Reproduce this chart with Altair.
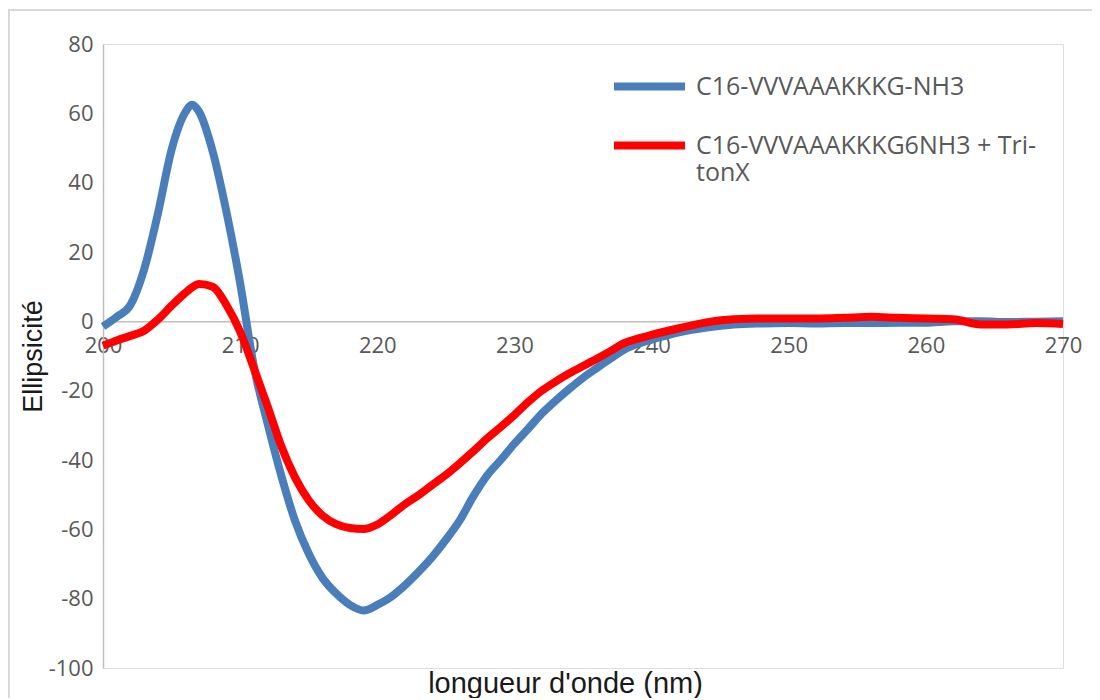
import altair as alt
import pandas as pd

# Wavelength grid (nm)
wavelength = [200, 201, 202, 203, 204, 205, 206, 206.5, 207, 208, 209, 210,
              211, 212, 213, 214, 215, 216, 217, 218, 219, 220, 221, 222, 223,
              224, 225, 226, 227, 228, 229, 230, 231, 232, 233, 234, 235, 236,
              237, 238, 239, 240, 242, 244, 246, 248, 250, 252, 254, 256, 258,
              260, 262, 264, 266, 268, 270]

# C16-VVVAAAKKKG-NH3 (blue)
blue_vals = [-1.5, 1.3, 4.7, 15, 31, 49.5, 60.3, 62.5, 60.5, 49, 31.6, 11,
             -13, -29.5, -44.5, -57.5, -67, -74, -78.5, -81.8, -83.4, -81.8, -79.5, -76.2, -72.3,
             -68, -63, -57.5, -50.5, -44.5, -40, -35.3, -31, -26.6, -22.9, -19.5, -16.3, -13.5,
             -10.8, -8.2, -6.5, -5.3, -3.2, -1.8, -0.9, -0.6, -0.5, -0.6, -0.5, -0.5, -0.4,
             -0.4, 0.0, 0.0, -0.2, -0.1, 0.0]

# C16-VVVAAAKKKG6NH3 + TritonX (red)
red_vals = [-7, -5.5, -4.2, -2.7, 0.5, 4.5, 8.2, 9.8, 10.8, 10, 4.7, -3,
            -13.5, -24.5, -36, -45, -51.6, -56, -58.5, -59.6, -59.9, -58.6, -55.9, -52.8, -50.2,
            -47.2, -44.3, -41, -37.5, -33.8, -30.5, -27, -23.3, -20, -17.4, -15, -12.9, -10.8,
            -8.6, -6.3, -5, -3.9, -2, -0.3, 0.6, 0.8, 0.8, 0.8, 1.0, 1.3, 1.0,
            0.8, 0.6, -0.9, -0.9, -0.5, -0.8]

series_names = ["C16-VVVAAAKKKG-NH3", "C16-VVVAAAKKKG6NH3 + Tri-tonX"]
series_colors = ["#4a7ebb", "#ff0000"]

x_ticks = [200, 210, 220, 230, 240, 250, 260, 270]
y_ticks = [80, 60, 40, 20, 0, -20, -40, -60, -80, -100]

rows = []
for order, (name, vals) in enumerate(zip(series_names, [blue_vals, red_vals])):
    for w, v in zip(wavelength, vals):
        rows.append({"wl": w, "val": v, "series": name, "ord": order})
df = pd.DataFrame(rows)

W, H = 960, 624
zero_from_bottom = H * 100 / 180

lines = alt.Chart(df).mark_line(strokeWidth=8, interpolate="monotone", clip=False).encode(
    x=alt.X("wl:Q",
            scale=alt.Scale(domain=[200, 270], nice=False, zero=False),
            axis=alt.Axis(values=x_ticks, offset=-zero_from_bottom, tickSize=0,
                          labelPadding=14, labelFont="Open Sans", labelFontSize=22,
                          labelColor="#595959", labelFlush=False,
                          domainColor="#bfbfbf", domainWidth=1.5, grid=False,
                          title="longueur d'onde (nm)", titleFont="Liberation Sans",
                          titleFontSize=29, titleFontWeight="normal", titleColor="#1a1a1a",
                          titleX=462, titleY=362, titleBaseline="middle", titleAlign="center")),
    y=alt.Y("val:Q",
            scale=alt.Scale(domain=[-100, 80], nice=False),
            axis=alt.Axis(values=y_ticks, tickSize=0, labelPadding=10,
                          labelExpr="'' + datum.value",
                          labelFont="Open Sans", labelFontSize=22, labelColor="#595959",
                          domainColor="#bfbfbf", domainWidth=1.5, grid=False,
                          title="Ellipsicité", titleFont="Liberation Sans", titleFontSize=27,
                          titleFontWeight="normal", titleColor="#1a1a1a",
                          titleX=-70, titleY=H / 2, titleAngle=-90,
                          titleBaseline="middle", titleAlign="center")),
    color=alt.Color("series:N",
                    scale=alt.Scale(domain=series_names, range=series_colors),
                    legend=alt.Legend(orient="none", legendX=507, legendY=3, title=None,
                                      symbolType="stroke", symbolSize=5041,
                                      symbolStrokeWidth=8, labelFont="Open Sans",
                                      labelFontSize=25, labelColor="#595959",
                                      labelLimit=400, rowPadding=3, labelOffset=7,
                                      labelExpr="datum.label == 'C16-VVVAAAKKKG6NH3 + Tri-tonX' ? ['C16-VVVAAAKKKG6NH3 + Tri-', 'tonX'] : datum.label")),
    order=alt.Order("ord:Q"),
    detail="series:N",
)

border = alt.Chart(pd.DataFrame({"a": [0]})).mark_rect(
    fill=None, stroke="#d9d9d9", strokeWidth=2, clip=False
).encode(
    x=alt.value(-94), x2=alt.value(1100), y=alt.value(-34), y2=alt.value(720)
)

chart = alt.layer(border, lines).properties(
    width=W, height=H,
    autosize=alt.AutoSizeParams(type="none"),
    padding={"left": 95, "top": 36, "right": 29, "bottom": 30},
).configure_view(stroke=None).configure(background="white")

chart.save("out.html", embed_options={"renderer": "svg", "actions": False})
